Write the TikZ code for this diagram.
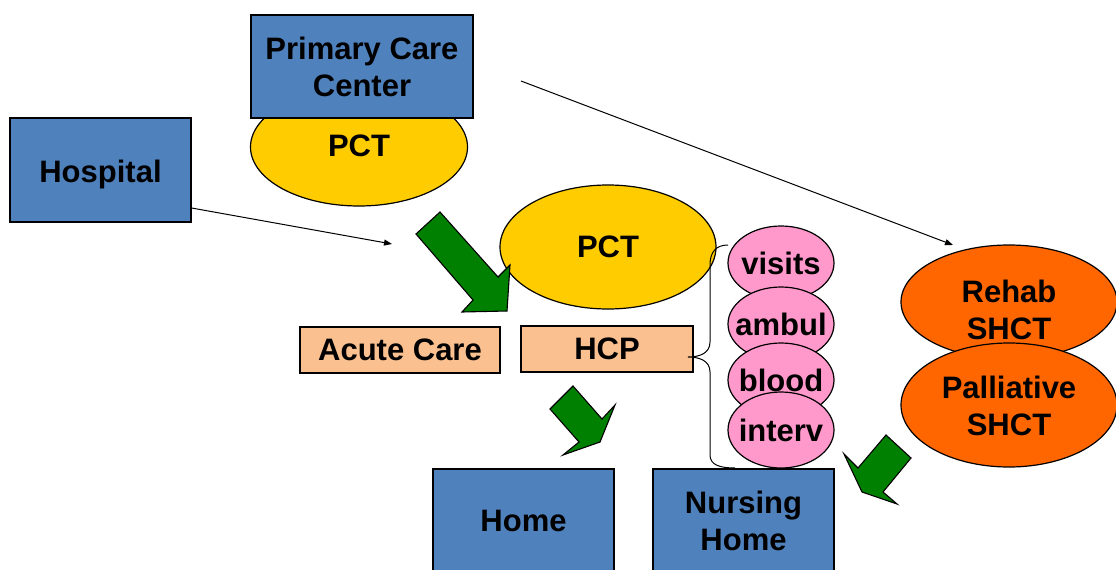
\documentclass[tikz,border=0pt]{standalone}
\usepackage{fontspec}
\setmainfont{Liberation Sans}
\usetikzlibrary{shapes.geometric,arrows.meta}

\definecolor{boxblue}{HTML}{4F81BD}
\definecolor{pctyellow}{HTML}{FFCC00}
\definecolor{carepeach}{HTML}{FAC090}
\definecolor{servpink}{HTML}{FF99CC}
\definecolor{shctorange}{HTML}{FF6600}
\definecolor{flowgreen}{HTML}{008000}

\tikzset{
  txt/.style={font=\bfseries\fontsize{31}{37}\selectfont, align=center, inner sep=0pt},
  lbl/.style={txt, line width=1.2pt, draw=black},
  bluebox/.style={lbl, rectangle, fill=boxblue, minimum width=181pt, minimum height=104pt},
  peachbox/.style={lbl, rectangle, fill=carepeach, minimum height=46pt},
  pctoval/.style={lbl, ellipse, fill=pctyellow},
  servoval/.style={lbl, ellipse, fill=servpink, minimum width=106pt, minimum height=74pt},
  shctoval/.style={lbl, ellipse, fill=shctorange, minimum width=216pt},
  thinarrow/.style={line width=1pt, -{Triangle[length=8pt,width=6pt]}},
  blockarrow/.style={fill=flowgreen, draw=black, line width=1.1pt, line join=miter},
  bracket/.style={line width=1pt}
}

\begin{document}
\begin{tikzpicture}[x=1pt,y=-1pt]
  \useasboundingbox (0,0) rectangle (1116,570);
  \fill[white] (0,0) rectangle (1116,570);
  \clip (0,0) rectangle (1116,570);

  % primary care centre with its team underneath
  \node[pctoval, minimum width=217pt, minimum height=118pt,
        label={[txt, yshift=1pt]center:PCT}] (pcttop) at (359,147) {};
  \node[bluebox, minimum width=222pt, minimum height=103pt] (pcc) at (362,66.5) {Primary Care\\Center};

  % hospital
  \node[bluebox, label={[txt, yshift=-4pt]center:Hospital}] (hosp) at (100.5,170) {};

  % central team
  \node[pctoval, minimum width=216pt, minimum height=124pt] (pctmid) at (608,247) {PCT};

  % care settings
  \node[peachbox, minimum width=200pt] (acute) at (400,350) {Acute Care};
  \node[peachbox, minimum width=172pt] (hcp) at (607,349) {HCP};

  % services stacked on the right of the team
  \node[servoval, label={[txt]center:visits}] (visits) at (781,263) {};
  \node[servoval, label={[txt]center:ambul}] (ambul) at (781,324) {};
  \node[servoval, label={[txt]center:blood}] (blood) at (781,380) {};
  \node[servoval, minimum height=76pt, label={[txt]center:interv}] (interv) at (781,430) {};

  % specialised teams
  \node[shctoval, minimum height=114pt, label={[txt, yshift=-8pt]center:Rehab\\SHCT}] (rehab) at (1009,302) {};
  \node[shctoval, minimum height=124pt, label={[txt, yshift=-1pt]center:Palliative\\SHCT}] (pall) at (1009,405) {};

  % destinations
  \node[bluebox] (home) at (523.5,521) {Home};
  \node[bluebox] (nursing) at (743.5,521) {Nursing\\Home};

  % thin referral arrows
  \coordinate (hospend) at (392,244);
  \coordinate (pccstart) at (521,81);
  \coordinate (rehabend) at (953,245);
  \draw[thinarrow] (hosp.east |- 0,208) -- (hospend);
  \draw[thinarrow] (pccstart) -- (rehabend);

  % brace grouping the services against HCP
  \coordinate (bracetop) at (728,245);
  \coordinate (bracetip) at (688,357);
  \coordinate (bracebot) at (735,468);
  \draw[bracket] (bracetop) .. controls (716,245) and (710,252) .. (710,265)
    -- (710,342) .. controls (710,353) and (700,357) .. (bracetip)
    .. controls (700,357) and (710,361) .. (710,372)
    -- (710,455) .. controls (710,465) and (720,468) .. (bracebot);

  % green flow arrows
  \filldraw[blockarrow] (416,234) -- (440,212) -- (498,277) -- (510,265)
    -- (507,311) -- (462,312) -- (473,300) -- cycle;
  \filldraw[blockarrow] (550,409) -- (573,386) -- (602,419) -- (615,405)
    -- (600,442) -- (563,455) -- (579,442) -- cycle;
  \filldraw[blockarrow] (886,435) -- (911,458) -- (883,492) -- (897,504)
    -- (862,492) -- (844,454) -- (858,468) -- cycle;
\end{tikzpicture}
\end{document}
